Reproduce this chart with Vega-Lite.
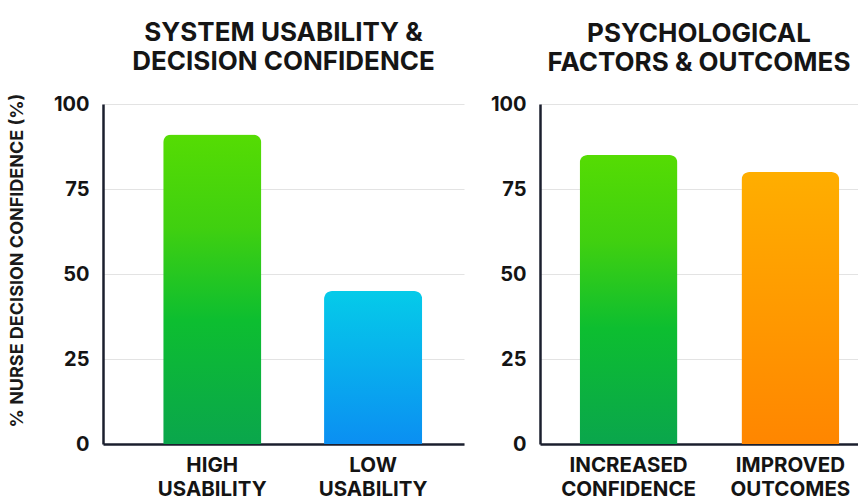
{
  "$schema": "https://vega.github.io/schema/vega-lite/v6.json",
  "background": "white",
  "padding": {"left": 8, "top": 20, "right": 0, "bottom": 0},
  "spacing": 26,
  "config": {
    "view": {"stroke": null},
    "font": "Inter",
    "title": {"fontSize": 26, "fontWeight": "bold", "color": "#151515", "lineHeight": 29, "anchor": "middle", "offset": 18, "font": "Inter"},
    "axis": {
      "domainColor": "#1b1f2e",
      "domainWidth": 2.5,
      "gridColor": "#e3e3e3",
      "gridWidth": 1,
      "ticks": false,
      "labelColor": "#141414",
      "labelFont": "Inter",
      "labelFontWeight": "bold",
      "labelOverlap": false,
      "titleFont": "Inter",
      "titleFontWeight": "bold",
      "titleColor": "#1a1a1a"
    },
    "axisY": {"labelFontSize": 20, "labelPadding": 14, "grid": true},
    "axisX": {"labelFontSize": 20.5, "labelPadding": 11, "labelLineHeight": 24, "grid": false, "labelAngle": 0}
  },
  "datasets": {
    "usability": [
      {"category": "HIGH USABILITY", "confidence": 91},
      {"category": "LOW USABILITY", "confidence": 45}
    ],
    "psych": [
      {"category": "INCREASED CONFIDENCE", "confidence": 85},
      {"category": "IMPROVED OUTCOMES", "confidence": 80}
    ]
  },
  "hconcat": [
    {
      "title": {"text": ["SYSTEM USABILITY &", "DECISION CONFIDENCE"]},
      "data": {"name": "usability"},
      "width": 361,
      "height": 340,
      "mark": {"type": "bar", "cornerRadiusTopLeft": 8, "cornerRadiusTopRight": 8},
      "encoding": {
        "x": {
          "field": "category", "type": "nominal", "sort": null,
          "scale": {"paddingInner": 0.39, "paddingOuter": 0.317, "align": 0.59},
          "axis": {"title": null, "labelExpr": "split(datum.label, ' ')"}
        },
        "y": {
          "field": "confidence", "type": "quantitative",
          "scale": {"domain": [0, 100]},
          "axis": {"values": [0, 25, 50, 75, 100], "title": "% NURSE DECISION CONFIDENCE (%)", "titleFontSize": 18, "titlePadding": 27, "titleY": 156}
        },
        "fill": {
          "condition": {
            "test": "datum.category === 'HIGH USABILITY'",
            "value": {"gradient": "linear", "x1": 0, "y1": 0, "x2": 0, "y2": 1, "stops": [
              {"offset": 0, "color": "#55dc03"},
              {"offset": 0.3, "color": "#40d010"},
              {"offset": 0.6, "color": "#0dbe30"},
              {"offset": 1, "color": "#0aa64c"}
            ]}
          },
          "value": {"gradient": "linear", "x1": 0, "y1": 0, "x2": 0, "y2": 1, "stops": [
            {"offset": 0, "color": "#05cbe9"},
            {"offset": 1, "color": "#0b8ff2"}
          ]}
        }
      }
    },
    {
      "title": {"text": ["PSYCHOLOGICAL", "FACTORS & OUTCOMES"]},
      "data": {"name": "psych"},
      "width": 318,
      "height": 340,
      "mark": {"type": "bar", "cornerRadiusTopLeft": 8, "cornerRadiusTopRight": 8},
      "encoding": {
        "x": {
          "field": "category", "type": "nominal", "sort": null,
          "scale": {"paddingInner": 0.395, "paddingOuter": 0.18, "align": 0.68},
          "axis": {"title": null, "labelExpr": "split(datum.label, ' ')"}
        },
        "y": {
          "field": "confidence", "type": "quantitative",
          "scale": {"domain": [0, 100]},
          "axis": {"values": [0, 25, 50, 75, 100], "title": null}
        },
        "fill": {
          "condition": {
            "test": "datum.category === 'INCREASED CONFIDENCE'",
            "value": {"gradient": "linear", "x1": 0, "y1": 0, "x2": 0, "y2": 1, "stops": [
              {"offset": 0, "color": "#55dc03"},
              {"offset": 0.3, "color": "#40d010"},
              {"offset": 0.6, "color": "#0dbe30"},
              {"offset": 1, "color": "#0aa64c"}
            ]}
          },
          "value": {"gradient": "linear", "x1": 0, "y1": 0, "x2": 0, "y2": 1, "stops": [
            {"offset": 0, "color": "#ffae00"},
            {"offset": 1, "color": "#ff8600"}
          ]}
        }
      }
    }
  ]
}
